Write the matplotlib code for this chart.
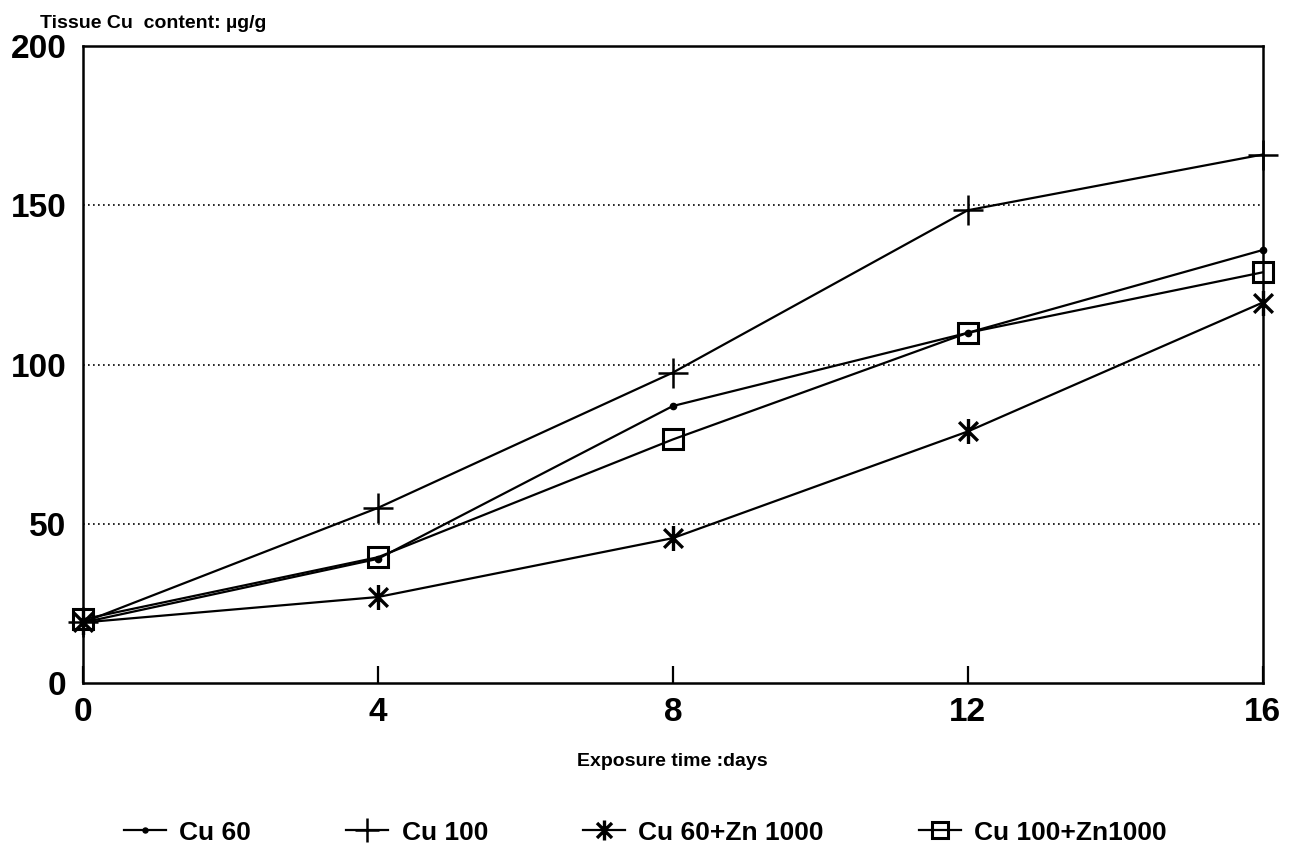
import matplotlib.pyplot as plt
from matplotlib.path import Path

# Exposure times and tissue Cu content (ug/g)
days = [0, 4, 8, 12, 16]
cu60 = [19, 39, 87, 110, 136]
cu100 = [19, 55, 97.5, 148.5, 166]
cu60_zn1000 = [19, 27, 45.5, 79, 119.5]
cu100_zn1000 = [20, 39.5, 76.5, 110, 129]

plt.rcParams['font.family'] = ['Liberation Sans', 'DejaVu Sans']
plt.rcParams['font.weight'] = 'bold'

# asterisk: one vertical stroke and two diagonals
d = 0.75
star = Path([(0, -1), (0, 1), (-d, -d), (d, d), (-d, d), (d, -d)],
            [Path.MOVETO, Path.LINETO, Path.MOVETO, Path.LINETO, Path.MOVETO, Path.LINETO])

fig = plt.figure(figsize=(12.91, 8.58), dpi=100)
ax = fig.add_axes([0.0643, 0.204, 0.9137, 0.742])

kw = dict(color='black', lw=1.6, clip_on=False, zorder=3)
ax.plot(days, cu60, marker='o', ms=4.5, label='Cu 60', **kw)
ax.plot(days, cu100, marker='+', ms=22, mew=1.8, label='Cu 100', **kw)
ax.plot(days, cu60_zn1000, marker=star, ms=18, mew=2.4, label='Cu 60+Zn 1000', **kw)
ax.plot(days, cu100_zn1000, marker='s', ms=14, mfc='none', mew=2.2, label='Cu 100+Zn1000', **kw)

ax.set_xlim(0, 16)
ax.set_ylim(0, 200)
ax.set_xticks(days)
ax.set_yticks([0, 50, 100, 150, 200])
ax.tick_params(axis='x', direction='in', length=12, width=1.6, labelsize=24, pad=10)
ax.tick_params(axis='y', length=0, labelsize=24, pad=12)
for lab in ax.get_xticklabels() + ax.get_yticklabels():
    lab.set_fontweight('heavy')
for sp in ax.spines.values():
    sp.set_linewidth(1.8)

for y in [50, 100, 150]:
    ax.axhline(y, color='black', lw=1.2, ls=(0, (1, 2)))

ax.set_xlabel('Exposure time :days', fontsize=14, fontweight='bold', labelpad=18)
fig.text(0.031, 0.983, 'Tissue Cu  content: µg/g', fontsize=14, fontweight='bold', va='top')

fig.legend(loc='lower center', ncol=4, bbox_to_anchor=(0.5, -0.012), frameon=False,
           prop={'size': 19, 'weight': 'bold'}, handlelength=1.6, handletextpad=0.5,
           columnspacing=3.6, markerscale=0.8)

fig.savefig('out.png', dpi=100)
